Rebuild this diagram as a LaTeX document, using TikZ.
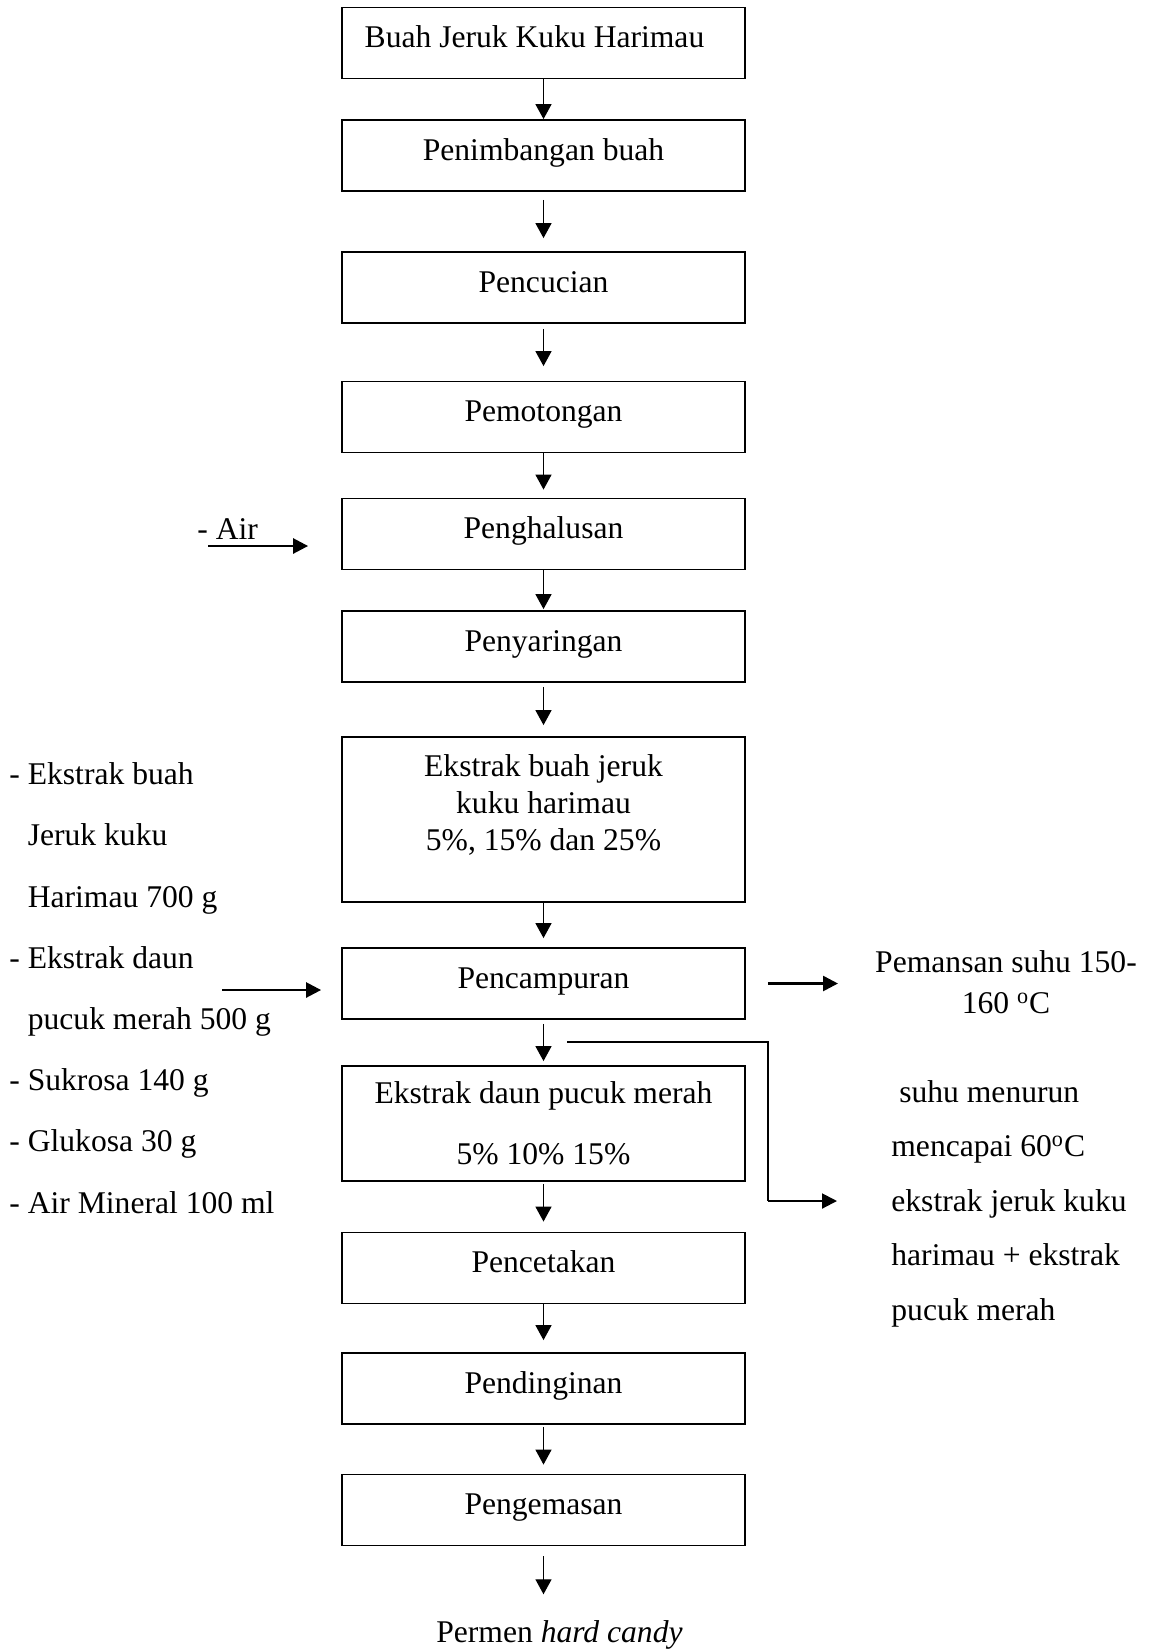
\documentclass[tikz,border=0pt]{standalone}
\usepackage{fontspec}
\setmainfont{Liberation Serif}
\usetikzlibrary{arrows.meta}
\newcommand{\figfont}{\fontsize{15.8pt}{18.6pt}\selectfont}
\begin{document}
\begin{tikzpicture}[x=0.5pt,y=-0.5pt,
  procbox/.style={draw, line width=0.9pt, minimum width=201.5pt, minimum height=35.5pt, inner sep=0pt, font=\figfont, text height=9.5pt, text depth=4.7pt},
  tallbox/.style={draw, line width=0.9pt, minimum width=201.5pt, inner sep=0pt},
  txt/.style={inner sep=0pt, font=\figfont},
  varr/.style={line width=0.7pt, -{Triangle[length=7.5pt,width=8pt]}},
  harr/.style={line width=1.3pt, -{Triangle[length=7.5pt,width=7.5pt]}},
  farr/.style={line width=1pt, -{Triangle[length=7.5pt,width=7.5pt]}},
  bendline/.style={line width=0.55pt},
]
\useasboundingbox (0,0) rectangle (1150,1650);

% process boxes
\node[procbox] (b1) at (543.5,43) {Buah Jeruk Kuku Harimau\hspace*{9pt}};
\node[procbox] (b2) at (543.5,155.5) {Penimbangan buah};
\node[procbox] (b3) at (543.5,287.5) {Pencucian};
\node[procbox] (b4) at (543.5,417) {Pemotongan};
\node[procbox] (b5) at (543.5,534) {Penghalusan};
\node[procbox] (b6) at (543.5,646.5) {Penyaringan};
\node[tallbox, minimum height=82.5pt] (b7) at (543.5,819.5) {};
\node[txt, align=center, font=\fontsize{15.8pt}{18.6pt}\selectfont] (t7) at (543.5,805) {Ekstrak buah jeruk\\kuku harimau\\5\%, 15\% dan 25\%};
\node[procbox] (b8) at (543.5,983.5) {Pencampuran};
\node[tallbox, minimum height=57.5pt, align=center, font=\fontsize{15.8pt}{30.5pt}\selectfont] (b9) at (543.5,1123.5) {Ekstrak daun pucuk merah\\5\% 10\% 15\%};
\node[procbox] (b10) at (543.5,1268) {Pencetakan};
\node[procbox] (b11) at (543.5,1388.5) {Pendinginan};
\node[procbox] (b12) at (543.5,1510) {Pengemasan};
\node[txt, anchor=base] (final) at (559.5,1642) {Permen \textit{hard candy}};

% side texts
\node[txt, anchor=base west] (air) at (197,539) {- Air};
\node[txt, anchor=west, align=left, font=\fontsize{15.8pt}{30.6pt}\selectfont] (ing) at (9,988) {- Ekstrak buah\\\hphantom{-}\ Jeruk kuku\\\hphantom{-}\ Harimau 700 g\\- Ekstrak daun\\\hphantom{-}\ pucuk merah 500 g\\- Sukrosa 140 g\\- Glukosa 30 g\\- Air Mineral 100 ml};
\node[txt, align=center, font=\fontsize{15.8pt}{20.5pt}\selectfont] (heat) at (1006,982.5) {Pemansan suhu 150-\\160 \textsuperscript{o}C};
\node[txt, anchor=west, align=left, font=\fontsize{15.8pt}{27.25pt}\selectfont] (cool) at (891,1203.5) {\ suhu menurun\\mencapai 60\textsuperscript{o}C\\ekstrak jeruk kuku\\harimau + ekstrak\\pucuk merah};

% main flow
\draw[varr] (b1) -- (b2);
\draw[varr, shorten <=4pt, shorten >=6.5pt] (b2) -- (b3);
\draw[varr, shorten <=2.5pt, shorten >=7.25pt] (b3) -- (b4);
\draw[varr, shorten >=4pt] (b4) -- (b5);
\draw[varr, shorten >=0.5pt] (b5) -- (b6);
\draw[varr, shorten <=2pt, shorten >=5.5pt] (b6) -- (b7);
\draw[varr, shorten >=4.5pt] (b7) -- (b8);
\draw[varr, shorten <=2pt, shorten >=2pt] (b8) -- (b9);
\draw[varr, shorten <=1pt, shorten >=5pt] (b9) -- (b10);
\draw[varr, shorten >=6pt] (b10) -- (b11);
\draw[varr, shorten <=1pt, shorten >=4.5pt] (b11) -- (b12);
\draw[varr, shorten <=5pt, shorten >=12.7pt] (b12.south) -- (b12.south |- final.north);

% side connectors
\coordinate (airS) at (208,546);
\draw[harr, shorten >=16.5pt] (airS) -- (airS -| b5.west);
\coordinate (mixS) at (222,990);
\draw[harr, shorten >=10pt] (mixS) -- (mixS -| b8.west);
\coordinate (heatE) at (838,983.5);
\draw[harr, shorten <=11pt] (b8.east) -- (heatE);
\coordinate (coolA) at (567,1042);
\coordinate (coolB) at (768,1042);
\coordinate (coolC) at (837,1201);
\draw[bendline] (coolA) -- (coolB) -- (coolB |- coolC);
\draw[farr] (coolB |- coolC) -- (coolC);
\end{tikzpicture}
\end{document}
